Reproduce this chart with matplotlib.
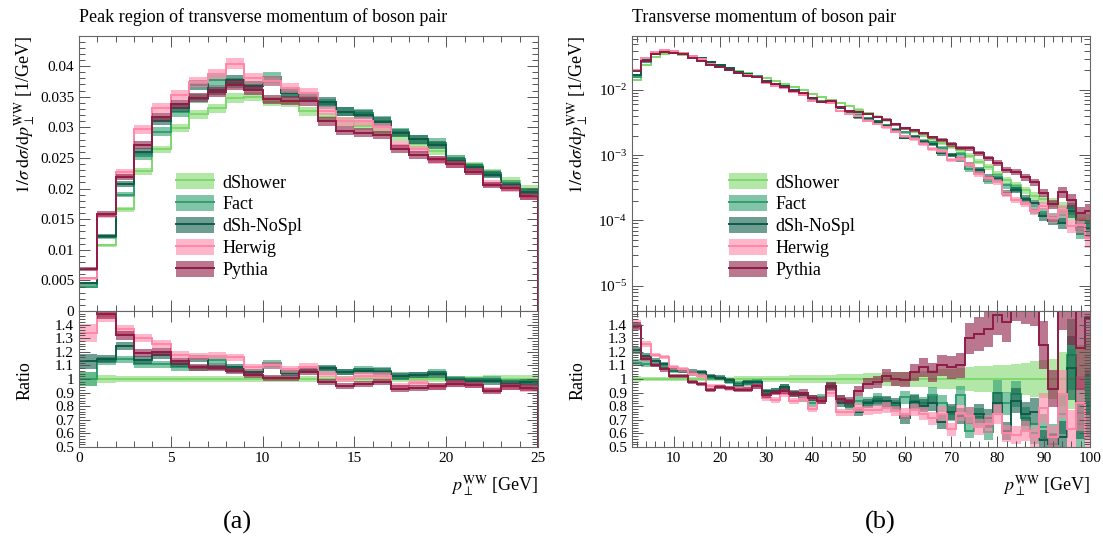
import numpy as np
import matplotlib
matplotlib.use("Agg")
import matplotlib.pyplot as plt
from matplotlib.patches import Patch
from matplotlib.lines import Line2D
from matplotlib.ticker import MultipleLocator, FuncFormatter, LogLocator, NullFormatter

plt.rcParams['font.family'] = ['Liberation Serif', 'DejaVu Serif']
plt.rcParams['mathtext.fontset'] = 'stix'

# --- series names / colours ---
names = ["dShower", "Fact", "dSh-NoSpl", "Herwig", "Pythia"]
colors = ["#7fd86e", "#2f9e6e", "#0e5c48", "#ff86a8", "#8e1c44"]

# --- (a) peak region, 1 GeV bins from 0 to 25 ---
edges_a = np.arange(0, 26, 1)
dshower_a = [0.0040, 0.0107, 0.0166, 0.0228, 0.0264, 0.0299, 0.0321, 0.0331, 0.0348, 0.0350,
             0.0342, 0.0340, 0.0326, 0.0316, 0.0310, 0.0302, 0.0293, 0.0285, 0.0272, 0.0262,
             0.0248, 0.0238, 0.0226, 0.0213, 0.0200]
# ratios to dShower
fact_a = [1.00, 1.13, 1.145, 1.11, 1.11, 1.085, 1.08, 1.14, 1.07, 1.05,
          1.115, 1.05, 1.07, 1.07, 1.05, 1.07, 1.06, 1.025, 1.03, 1.05,
          1.0, 0.99, 0.995, 0.975, 0.97]
nospl_a = [1.13, 1.145, 1.245, 1.14, 1.175, 1.11, 1.15, 1.09, 1.085, 1.05,
           1.10, 1.045, 1.07, 1.08, 1.05, 1.06, 1.055, 1.02, 1.03, 1.035,
           0.99, 0.985, 0.985, 0.965, 0.975]
herwig_a = [1.34, 1.46, 1.365, 1.30, 1.255, 1.18, 1.165, 1.17, 1.16, 1.085,
            1.10, 1.07, 1.09, 1.035, 1.0, 1.025, 1.025, 0.95, 0.97, 0.94,
            0.965, 0.955, 0.92, 0.94, 0.93]
pythia_a = [1.72, 1.48, 1.32, 1.19, 1.20, 1.13, 1.085, 1.08, 1.06, 1.03,
            1.01, 1.01, 1.05, 0.98, 0.95, 0.965, 0.98, 0.93, 0.935, 0.945,
            0.965, 0.955, 0.91, 0.945, 0.935]
err_a = [0.05, 0.026, 0.024, 0.023, 0.023, 0.022, 0.022, 0.022, 0.022, 0.022,
         0.022, 0.022, 0.023, 0.023, 0.023, 0.023, 0.024, 0.024, 0.024, 0.025,
         0.025, 0.025, 0.026, 0.026, 0.027]

# --- (b) full range, 2 GeV bins from 1 ---
edges_b = np.arange(1, 103, 2)
dshower_b = [0.0142, 0.0245, 0.0325, 0.0355, 0.0362, 0.0345, 0.0318, 0.0290, 0.0263, 0.0238,
             0.0216, 0.0196, 0.0180, 0.0164, 0.0150, 0.0135, 0.0122, 0.0110, 0.0098, 0.0088,
             0.0078, 0.0070, 0.0064, 0.0057, 0.0050, 0.0044, 0.0039, 0.0034, 0.0030, 0.0026,
             0.0023, 0.0020, 0.00178, 0.00155, 0.00135, 0.00118, 0.00098, 0.00080, 0.00066, 0.00052,
             0.00042, 0.00035, 0.00029, 0.00024, 0.00021, 0.00019, 0.00016, 0.00013, 0.000105, 0.000095]
fact_b = [1.12, 1.11, 1.10, 1.09, 1.06, 1.06, 1.035, 1.03, 1.007, 1.007,
          0.98, 0.97, 0.97, 0.98, 0.90, 0.915, 0.94, 0.89, 0.855, 0.82,
          0.865, 0.945, 0.855, 0.805, 0.84, 0.83, 0.855, 0.83, 0.805, 0.865,
          0.84, 0.82, 0.88, 0.82, 0.745, 0.88, 0.62, 0.72, 0.61, 0.90,
          0.82, 0.89, 0.71, 0.60, 0.65, 0.585, 0.745, 1.18, 0.67, 0.82]
nospl_b = [1.21, 1.17, 1.135, 1.11, 1.07, 1.06, 1.055, 1.05, 1.02, 1.01,
           0.99, 0.95, 0.975, 0.975, 0.91, 0.91, 0.94, 0.895, 0.88, 0.86,
           0.84, 0.94, 0.82, 0.82, 0.76, 0.82, 0.84, 0.835, 0.82, 0.71,
           0.83, 0.805, 0.82, 0.685, 0.755, 0.73, 0.73, 0.745, 0.71, 0.82,
           0.62, 0.84, 0.745, 0.76, 0.55, 0.525, 0.575, 1.08, 0.75, 0.80]
herwig_b = [1.40, 1.255, 1.175, 1.16, 1.085, 1.07, 1.04, 1.025, 0.945, 0.945,
            0.93, 0.93, 0.93, 0.945, 0.86, 0.845, 0.89, 0.84, 0.855, 0.78,
            0.84, 0.90, 0.755, 0.755, 0.79, 0.77, 0.775, 0.79, 0.765, 0.745,
            0.77, 0.745, 0.71, 0.745, 0.63, 0.75, 0.73, 0.645, 0.67, 0.745,
            0.60, 0.59, 0.62, 0.575, 0.79, 0.57, 0.89, 0.635, 0.82, 0.57]
pythia_b = [1.39, 1.15, 1.10, 1.07, 1.025, 1.02, 0.975, 0.965, 0.92, 0.94,
            0.935, 0.92, 0.92, 0.945, 0.88, 0.90, 0.91, 0.89, 0.90, 0.86,
            0.84, 0.95, 0.855, 0.84, 0.91, 0.965, 0.98, 1.025, 1.0, 0.995,
            1.05, 1.085, 1.05, 1.10, 1.085, 1.10, 1.30, 1.33, 1.365, 1.47,
            1.42, 1.6, 1.6, 1.6, 1.25, 0.93, 1.7, 1.6, 1.23, 1.45]
err_b = [0.022, 0.017, 0.014, 0.014, 0.014, 0.014, 0.015, 0.015, 0.016, 0.017,
         0.018, 0.019, 0.02, 0.021, 0.022, 0.023, 0.024, 0.026, 0.027, 0.029,
         0.031, 0.033, 0.035, 0.037, 0.04, 0.042, 0.045, 0.048, 0.052, 0.055,
         0.059, 0.062, 0.067, 0.072, 0.077, 0.082, 0.087, 0.092, 0.097, 0.1,
         0.105, 0.11, 0.12, 0.13, 0.14, 0.15, 0.2, 0.22, 0.25, 0.3]


def draw_band(ax, edges, vals, err, color):
    vals = np.asarray(vals)
    err = np.asarray(err)
    ax.stairs(vals * (1 + err), edges, baseline=vals * (1 - err), fill=True,
              color=color, alpha=0.6, lw=0)
    ax.stairs(vals, edges, color=color, lw=1.4)


def style_axes(ax):
    ax.tick_params(which="both", direction="in", top=True, right=True,
                   color="#555555", width=0.7, labelsize=11)
    ax.tick_params(which="major", length=8)
    ax.tick_params(which="minor", length=4)
    for s in ax.spines.values():
        s.set_color("#666666")
        s.set_linewidth(0.8)


def make_panel(ax, rax, edges, ref, ratios, err):
    series = [np.ones(len(ref))] + [np.asarray(r) for r in ratios]
    for r, c in zip(series, colors):
        draw_band(ax, edges, np.asarray(ref) * r, err, c)
        draw_band(rax, edges, r, err, c)
    for a in (ax, rax):
        style_axes(a)
    ax.tick_params(labelbottom=False)
    rax.set_ylim(0.5, 1.5)
    rax.set_yticks(np.arange(0.5, 1.45, 0.1))
    rax.yaxis.set_minor_locator(MultipleLocator(0.02))
    rax.yaxis.set_major_formatter(FuncFormatter(lambda v, p: f"{v:g}"))
    rax.text(-0.118, 0.49, "Ratio", rotation=90, transform=rax.transAxes,
             ha="center", va="center", fontsize=13)
    rax.text(1.0, -0.19, r"$p_\perp^{\mathrm{WW}}$ [GeV]", transform=rax.transAxes,
             ha="right", va="top", fontsize=13)
    ax.text(-0.118, 1.0, r"$1/\sigma\;\mathrm{d}\sigma/\mathrm{d}p_\perp^{\mathrm{WW}}$ [1/GeV]",
            rotation=90, transform=ax.transAxes, ha="center", va="top", fontsize=13)

    handles = [(Patch(facecolor=c, alpha=0.6, lw=0), Line2D([], [], color=c, lw=1.4))
               for c in colors]
    ax.legend(handles, names, loc="upper left", bbox_to_anchor=(0.177, 0.56),
              frameon=False, fontsize=13, handlelength=2.1, handleheight=1.0,
              labelspacing=0.2, handletextpad=0.45)


fig = plt.figure(figsize=(11.03, 5.41), dpi=100)
W, H = 1103, 541

def box(x0, x1, y0, y1):
    return [x0 / W, 1 - y1 / H, (x1 - x0) / W, (y1 - y0) / H]

ax_a = fig.add_axes(box(79, 538, 36, 311))
rax_a = fig.add_axes(box(79, 538, 311, 447), sharex=ax_a)
ax_b = fig.add_axes(box(632, 1090, 36, 311))
rax_b = fig.add_axes(box(632, 1090, 311, 447), sharex=ax_b)

make_panel(ax_a, rax_a, edges_a, dshower_a, [fact_a, nospl_a, herwig_a, pythia_a], err_a)
ax_a.set_xlim(0, 25)
ax_a.set_ylim(0, 0.0449)
ax_a.yaxis.set_major_locator(MultipleLocator(0.005))
ax_a.yaxis.set_minor_locator(MultipleLocator(0.001))
ax_a.yaxis.set_major_formatter(FuncFormatter(lambda v, p: f"{v:g}"))
ax_a.xaxis.set_major_locator(MultipleLocator(5))
ax_a.xaxis.set_minor_locator(MultipleLocator(1))

make_panel(ax_b, rax_b, edges_b, dshower_b, [fact_b, nospl_b, herwig_b, pythia_b], err_b)
ax_b.set_yscale("log")
ax_b.set_xlim(1, 100)
ax_b.set_ylim(4.1e-6, 0.067)
ax_b.yaxis.set_major_locator(LogLocator(base=10, numticks=10))
ax_b.yaxis.set_minor_locator(LogLocator(base=10, subs=np.arange(2, 10), numticks=20))
ax_b.yaxis.set_minor_formatter(NullFormatter())
ax_b.xaxis.set_major_locator(MultipleLocator(10))
ax_b.xaxis.set_minor_locator(MultipleLocator(2))

fig.text(79 / W, 1 - 17 / H, "Peak region of transverse momentum of boson pair",
         ha="left", va="center", fontsize=13)
fig.text(632 / W, 1 - 17 / H, "Transverse momentum of boson pair",
         ha="left", va="center", fontsize=13)
fig.text(237 / W, 1 - 522 / H, "(a)", ha="center", va="center", fontsize=19)
fig.text(880 / W, 1 - 522 / H, "(b)", ha="center", va="center", fontsize=19)

fig.savefig("out.png", dpi=100)
